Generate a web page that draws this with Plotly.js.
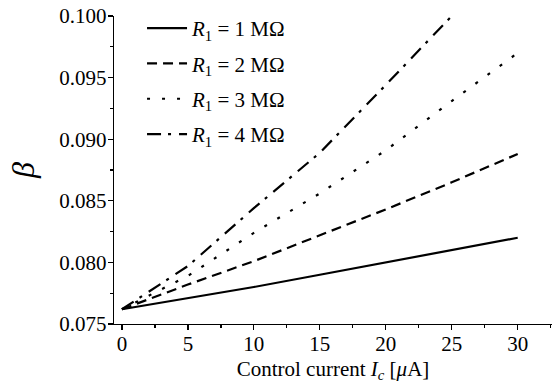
<!DOCTYPE html>
<html>
<head>
<meta charset="utf-8">
<script src="https://cdn.plot.ly/plotly-3.0.1.min.js"></script>
<style>html,body{margin:0;padding:0;background:#fff;}#chart{width:559px;height:390px;}</style>
</head>
<body>
<div id="chart"></div>
<script>
const current = [0, 5, 10, 15, 20, 25, 30];
const beta_R1 = [0.0762, 0.0771, 0.0780, 0.0790, 0.0800, 0.0810, 0.0820];
const beta_R2 = [0.0762, 0.0782, 0.0801, 0.0822, 0.0843, 0.0865, 0.0888];
const beta_R3 = [0.0762, 0.0789, 0.0824, 0.0856, 0.0891, 0.0931, 0.0970];
const beta_R4 = [0.0762, 0.0797, 0.0844, 0.0889, 0.0944, 0.1000, 0.1060];
const xTickVals = [0, 5, 10, 15, 20, 25, 30];
const xTickText = ['0', '5', '10', '15', '20', '25', '30'];
const yTickVals = [0.075, 0.080, 0.085, 0.090, 0.095, 0.100];
const yTickText = ['0.075', '0.080', '0.085', '0.090', '0.095', '0.100'];
const seriesNames = ['<i>R</i><sub>1</sub> = 1 MΩ', '<i>R</i><sub>1</sub> = 2 MΩ', '<i>R</i><sub>1</sub> = 3 MΩ', '<i>R</i><sub>1</sub> = 4 MΩ'];
const dashes = ['solid', '10px,6px', '3px,12px', '14px,7px,3px,8px'];
const ys = [beta_R1, beta_R2, beta_R3, beta_R4];

const traces = ys.map((y, i) => ({
  x: current, y: y, type: 'scatter', mode: 'lines', name: seriesNames[i],
  legendgroup: 'g' + i,
  line: {color: '#000', width: 2.2, dash: dashes[i]}
}));

const fam = 'Liberation Serif';
const mk = (s) => ({family: fam, color: '#000', size: s});

const layout = {
  width: 559, height: 390,
  margin: {l: 114, r: 7, t: 16, b: 66},
  paper_bgcolor: '#fff', plot_bgcolor: '#fff',
  font: mk(21),
  showlegend: true,
  legend: {x: 0.064, y: 1.026, xanchor: 'left', yanchor: 'top', bgcolor: 'rgba(0,0,0,0)',
           font: mk(21), tracegroupgap: 5, itemwidth: 40, traceorder: 'grouped'},
  xaxis: {
    range: [-0.6, 32.6], showgrid: false, zeroline: false, automargin: false,
    showline: true, linecolor: '#000', linewidth: 1.3,
    ticks: 'outside', ticklen: 5, tickwidth: 1.3, tickcolor: '#000',
    tickmode: 'array', tickvals: xTickVals, ticktext: xTickText, ticklabelstandoff: -5,
    minor: {ticks: 'outside', ticklen: 3, tickwidth: 1.3, tickcolor: '#000', dtick: 2.5, tick0: 0, showgrid: false},
    tickfont: mk(21),
    title: {text: 'Control current <i>I</i><sub><i>c</i></sub> [<i>μ</i>A]', font: mk(21), standoff: 6}
  },
  yaxis: {
    range: [0.075, 0.100], showgrid: false, zeroline: false, automargin: false,
    showline: true, linecolor: '#000', linewidth: 1.3,
    ticks: 'outside', ticklen: 5, tickwidth: 1.3, tickcolor: '#000',
    tickmode: 'array', tickvals: yTickVals, ticktext: yTickText, ticklabelstandoff: -3,
    minor: {ticks: 'outside', ticklen: 3, tickwidth: 1.3, tickcolor: '#000', dtick: 0.0025, tick0: 0.075, showgrid: false},
    tickfont: mk(21),
    title: {text: '<i>β</i>', font: mk(32), standoff: 15}
  }
};

Plotly.newPlot('chart', traces, layout, {displayModeBar: false, staticPlot: true});
</script>
</body>
</html>
